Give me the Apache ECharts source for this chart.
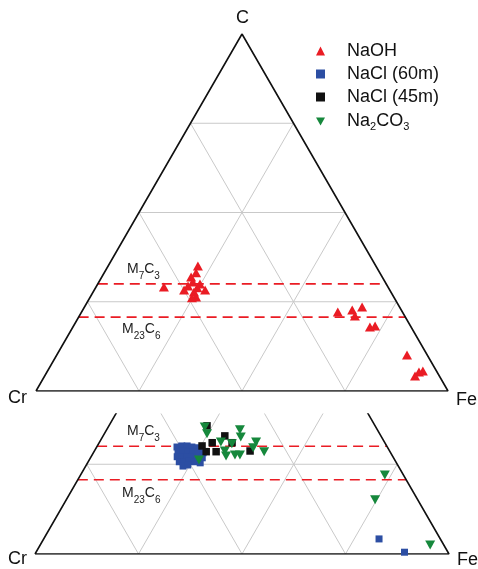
<!DOCTYPE html>
<html>
<head>
<meta charset="utf-8">
<script src="https://cdn.jsdelivr.net/npm/echarts@6/dist/echarts.min.js"></script>
<style>
html,body{margin:0;padding:0;background:#fff;}
#chart{width:478px;height:569px;}
</style>
</head>
<body>
<div id="chart"></div>
<script>
// Composition triples [Cr, Fe, C] in at.%
const seriesNames = ['NaOH', 'NaCl (60m)', 'NaCl (45m)', 'Na2CO3'];
const cornerLabels = ['Cr', 'Fe', 'C'];
const gridLevels = [25, 50, 75];
const phaseCarbon = [30, 600 / 29]; // M7C3, M23C6
const phaseNames = ['M7C3', 'M23C6'];

// Top diagram
const naohTop = [
  [54.4,16.5,29.1],[43.2,21.8,35.0],[44.6,22.3,33.1],[46.4,21.7,31.9],[46.7,22.8,30.5],
  [45.2,24.8,30.0],[48.4,22.2,29.4],[49.9,21.8,28.3],[46.4,24.7,28.9],[44.8,26.9,28.3],
  [47.8,24.5,27.7],[48.0,25.7,26.3],[49.1,24.8,26.1],
  [15.7,62.2,22.1],[11.9,65.4,22.7],[9.1,67.4,23.5],[12.1,66.9,21.0],[10.0,72.1,17.9],
  [8.6,73.2,18.2],[4.9,85.0,10.1],[5.9,89.9,4.2],[4.4,90.3,5.3],[3.3,91.1,5.6]
];
// Bottom diagram
const nacl60 = [
  [50.8,19.4,29.8],[49.5,20.4,30.1],[48.2,21.7,30.1],[47.2,23.0,29.8],[46.0,24.4,29.6],
  [51.2,20.3,28.5],[49.9,21.4,28.7],[48.8,22.7,28.5],[47.6,23.9,28.5],[46.3,25.2,28.5],
  [45.3,26.5,28.2],[52.1,20.8,27.1],[50.9,22.0,27.1],[49.7,23.2,27.1],[48.5,24.4,27.1],
  [47.5,25.7,26.8],[46.2,27.0,26.8],[52.3,22.0,25.7],[51.1,23.2,25.7],[49.9,24.2,25.9],
  [48.7,25.6,25.7],[52.0,23.5,24.5],[50.7,24.5,24.8],[47.4,27.2,25.4],
  [14.8,81.0,4.2],[10.5,89.0,0.5]
];
const nacl45 = [
  [40.6,23.7,35.7],[44.6,25.3,30.1],[41.7,27.3,31.0],[44.4,27.1,28.5],[42.0,29.5,28.5],
  [37.7,29.4,32.9],[36.9,32.1,31.0],[33.7,37.6,28.7]
];
const na2co3 = [
  [41.3,23.3,35.4],[41.7,24.8,33.5],[33.2,32.2,34.6],[34.0,33.4,32.6],[39.5,29.3,31.2],
  [37.1,32.2,30.7],[31.0,37.8,31.2],[32.5,37.9,29.6],[39.8,31.5,28.7],[40.2,32.5,27.3],
  [37.9,34.5,27.6],[36.7,35.7,27.6],[30.4,41.1,28.5],[47.3,26.5,26.2],
  [4.5,73.5,22.0],[10.3,74.6,15.1],[3.3,94.2,2.5]
];

const RED = '#ea1c24', BLUE = '#2c4ea3', BLACK = '#111111', GREEN = '#16883c';
const FONT = 'Liberation Sans, Arial, sans-serif';

function toXY(p) {
  const s = p[0] + p[1] + p[2];
  return [(p[1] + p[2] / 2) / s, p[2] / s];
}

function lineSeries(idx, pts, style, z) {
  return {
    type: 'line', xAxisIndex: idx, yAxisIndex: idx, data: pts.map(toXY),
    symbol: 'none', silent: true, animation: false, clip: true,
    lineStyle: style, z: z
  };
}

function panelFrame(idx) {
  const out = [];
  gridLevels.forEach(k => {
    const g = { color: '#c9c9c9', width: 1 };
    out.push(lineSeries(idx, [[100 - k, 0, k], [0, 100 - k, k]], g, 1));
    out.push(lineSeries(idx, [[100 - k, k, 0], [0, k, 100 - k]], g, 1));
    out.push(lineSeries(idx, [[k, 100 - k, 0], [k, 0, 100 - k]], g, 1));
  });
  phaseCarbon.forEach(c => {
    out.push(lineSeries(idx, [[100 - c, 0, c], [0, 100 - c, c]],
      { color: RED, width: 1.6, type: [10, 6] }, 2));
  });
  out.push(lineSeries(idx, [[100, 0, 0], [0, 100, 0], [0, 0, 100], [100, 0, 0]],
    { color: BLACK, width: 1.6 }, 3));
  return out;
}

function scatter(idx, name, data, symbol, size, color, rotate) {
  return {
    type: 'scatter', name: name, xAxisIndex: idx, yAxisIndex: idx,
    data: data.map(toXY), symbol: symbol, symbolSize: size, symbolRotate: rotate || 0,
    itemStyle: { color: color, opacity: 1 }, z: 5, animation: false, clip: false
  };
}

const chart = echarts.init(document.getElementById('chart'), null, { renderer: 'canvas' });

const series = [].concat(
  panelFrame(0), panelFrame(1),
  [
    scatter(0, seriesNames[0], naohTop, 'triangle', [10, 9], RED),
    scatter(1, seriesNames[1], nacl60, 'rect', 7, BLUE),
    scatter(1, seriesNames[2], nacl45, 'rect', 7.5, BLACK),
    scatter(1, seriesNames[3], na2co3, 'triangle', [10, 9], GREEN, 180)
  ]
);

// 'M7C3' -> rich tokens with subscripted digits
function richFormula(name, big, small) {
  return (name.match(/[A-Za-z]+|\d+/g) || []).map(t => /\d/.test(t) ? '{' + small + '|' + t + '}' : '{' + big + '|' + t + '}').join('');
}

const axisCommon = { type: 'value', show: false, min: 0 };

const textStyleBig = { fontFamily: FONT, fontSize: 18, fill: '#111' };
const phaseRich = {
  m: { fontFamily: FONT, fontSize: 14, color: '#222', lineHeight: 16, verticalAlign: 'top' },
  s: { fontFamily: FONT, fontSize: 10, color: '#222', lineHeight: 10, verticalAlign: 'top', padding: [9, 0, 0, 0] }
};

function phaseText(x, y, name) {
  return { type: 'text', left: x, top: y, silent: true,
    style: { text: richFormula(name, 'm', 's'), rich: phaseRich, fill: '#222' } };
}

const legendIcons = [
  'triangle',
  'rect',
  'rect',
  'path://M0,0 L10,0 L5,9 Z'
];

chart.setOption({
  animation: false,
  backgroundColor: '#fff',
  grid: [
    { left: 36, top: 34, width: 412, height: 357 },
    { left: 35, top: 414, width: 414, height: 140 }
  ],
  xAxis: [
    Object.assign({ gridIndex: 0, max: 1 }, axisCommon),
    Object.assign({ gridIndex: 1, max: 1 }, axisCommon)
  ],
  yAxis: [
    Object.assign({ gridIndex: 0, max: 1 }, axisCommon),
    Object.assign({ gridIndex: 1, max: 0.39 }, axisCommon)
  ],
  legend: {
    orient: 'vertical', left: 311, top: 37, itemWidth: 9, itemHeight: 9, itemGap: 5,
    data: seriesNames.map((n, i) => ({ name: n, icon: legendIcons[i] })),
    formatter: (n) => n === 'Na2CO3' ? '{f|Na}{s|2}{t|CO}{s|3}' : '{f|' + n + '}',
    textStyle: {
      rich: {
        f: { fontFamily: FONT, fontSize: 18, color: '#111', lineHeight: 20, padding: [0, 0, 0, 17] },
        t: { fontFamily: FONT, fontSize: 18, color: '#111', lineHeight: 20 },
        s: { fontFamily: FONT, fontSize: 11, color: '#111', lineHeight: 11, padding: [10, 0, 0, 0] }
      }
    }
  },
  graphic: [
    { type: 'text', left: 236, top: 9, silent: true, style: Object.assign({ text: cornerLabels[2] }, textStyleBig) },
    { type: 'text', left: 8, top: 389, silent: true, style: Object.assign({ text: cornerLabels[0] }, textStyleBig) },
    { type: 'text', left: 456, top: 391, silent: true, style: Object.assign({ text: cornerLabels[1] }, textStyleBig) },
    { type: 'text', left: 8, top: 550, silent: true, style: Object.assign({ text: cornerLabels[0] }, textStyleBig) },
    { type: 'text', left: 457, top: 551, silent: true, style: Object.assign({ text: cornerLabels[1] }, textStyleBig) },
    phaseText(127, 262, phaseNames[0]),
    phaseText(122, 322, phaseNames[1]),
    phaseText(127, 424, phaseNames[0]),
    phaseText(122, 486, phaseNames[1])
  ],
  series: series
});
</script>
</body>
</html>
